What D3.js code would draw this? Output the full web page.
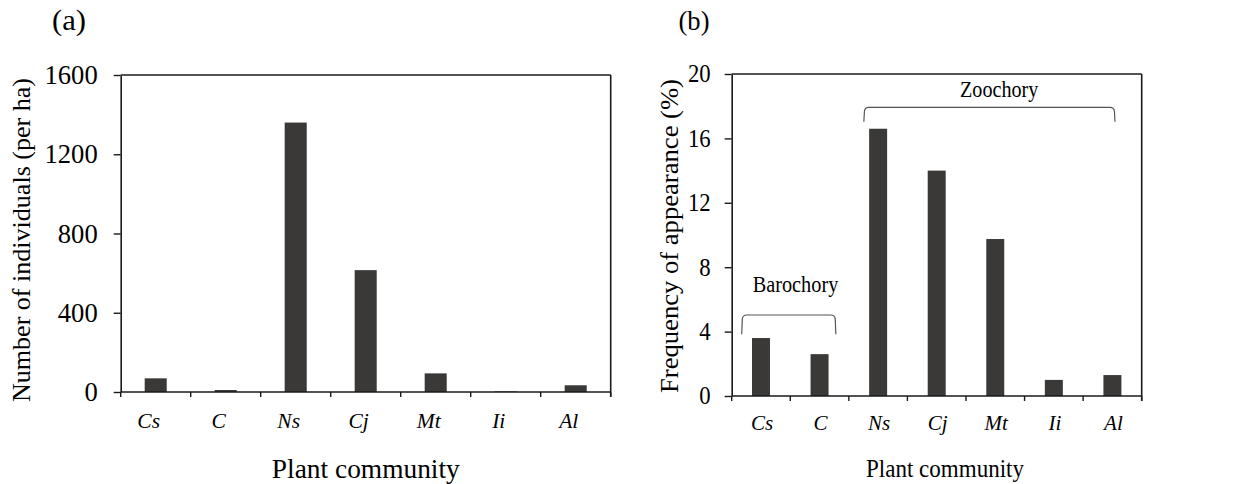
<!DOCTYPE html>
<html>
<head>
<meta charset="utf-8">
<script src="https://cdn.jsdelivr.net/npm/d3@7/dist/d3.min.js"></script>
<style>
  html, body { margin: 0; padding: 0; background: #fff; }
  svg { display: block; }
</style>
</head>
<body>
<svg id="chart" width="1244" height="484"></svg>
<script>
// ---- data ----
const categories = ["Cs", "C", "Ns", "Cj", "Mt", "Ii", "Al"];
const individualsPerHa = [69, 10, 1360, 615, 94, 3, 34];
const frequencyPct = [3.6, 2.6, 16.6, 14.0, 9.75, 1.0, 1.3];
const ticksA = [0, 400, 800, 1200, 1600];
const ticksB = [0, 4, 8, 12, 16, 20];
const groupNames = ["Barochory", "Zoochory"];
const groupFirst = ["Cs", "Ns"];
const groupLast = ["C", "Al"];

const svg = d3.select("#chart");
const barColor = "#3a3937";
const axisColor = "#1a1a1a";
const FONT = '"Liberation Serif", "Times New Roman", Tinos, Times';

function txt(g, x, y, s, opts) {
  const t = g.append("text")
    .style("font-family", FONT)
    .style("font-size", opts.size + "px")
    .style("fill", "#000")
    .attr("text-anchor", opts.anchor || "middle")
    .text(s);
  if (opts.rot) {
    t.attr("x", 0).attr("y", 0).attr("transform", `translate(${x},${y}) rotate(${opts.rot})`);
  } else {
    t.attr("x", x).attr("y", y);
  }
  if (opts.italic) t.style("font-style", "italic");
  if (opts.dy) t.attr("dy", opts.dy);
  if (opts.len) t.attr("textLength", opts.len).attr("lengthAdjust", "spacingAndGlyphs");
  return t;
}

function panel(cfg) {
  const g = svg.append("g");
  const x = d3.scaleBand().domain(categories).range([cfg.left, cfg.right]).padding(0);
  const y = d3.scaleLinear().domain([0, cfg.max]).range([cfg.bottom, cfg.top]);
  const step = x.step();
  const bw = step * cfg.barFrac;

  g.selectAll("rect.bar").data(categories.map((c, i) => ({ c, v: cfg.values[i] })))
    .enter().append("rect")
    .attr("x", d => x(d.c) + step / 2 - bw / 2)
    .attr("width", bw)
    .attr("y", d => y(d.v))
    .attr("height", d => y(0) - y(d.v))
    .attr("fill", barColor);

  g.append("line").attr("x1", cfg.left).attr("x2", cfg.right).attr("y1", cfg.top).attr("y2", cfg.top)
    .attr("stroke", axisColor).attr("stroke-width", 1.6);
  g.append("line").attr("x1", cfg.right).attr("x2", cfg.right).attr("y1", cfg.top).attr("y2", cfg.bottom + 5)
    .attr("stroke", axisColor).attr("stroke-width", 1.6);

  const ya = g.append("g").attr("transform", `translate(${cfg.left},0)`)
    .call(d3.axisLeft(y).tickValues(cfg.ticks).tickSize(7).tickSizeOuter(0).tickFormat(d3.format("d")));
  ya.select(".domain").attr("stroke", axisColor).attr("stroke-width", 1.6);
  ya.selectAll(".tick line").attr("stroke", axisColor).attr("stroke-width", 1.4);
  ya.selectAll(".tick text").remove();
  cfg.ticks.forEach(t => {
    const s = String(t);
    txt(g, cfg.left - cfg.tickLabelGap, y(t), s,
      { size: cfg.tickFont, anchor: "end", dy: "0.34em", len: s.length * cfg.digitW });
  });

  g.append("line").attr("x1", cfg.left).attr("x2", cfg.right).attr("y1", cfg.bottom).attr("y2", cfg.bottom)
    .attr("stroke", axisColor).attr("stroke-width", 1.6);
  const bounds = categories.map(c => x(c)).concat([x(categories[categories.length - 1]) + step]);
  g.selectAll("line.xt").data(bounds).enter().append("line")
    .attr("x1", d => d).attr("x2", d => d)
    .attr("y1", cfg.bottom).attr("y2", cfg.bottom + 5)
    .attr("stroke", axisColor).attr("stroke-width", 1.4);
  categories.forEach(c => {
    txt(g, x(c) + step / 2 + cfg.catShift, cfg.catBaseline, c, { size: cfg.catFont, italic: true });
  });

  txt(g, cfg.xTitleX, cfg.xTitleY, "Plant community", { size: cfg.xTitleFont, len: cfg.xTitleLen });
  txt(g, cfg.yTitleX, cfg.yTitleY, cfg.yTitle, { size: cfg.yTitleFont, rot: -90, len: cfg.yTitleLen });
  txt(g, cfg.panelX, 30, cfg.panelLabel, { size: cfg.panelFont, len: cfg.panelLen });

  return { g, x, y, step };
}

panel({
  values: individualsPerHa, max: 1600, ticks: ticksA,
  left: 120.7, right: 610.7, top: 75, bottom: 392, barFrac: 0.315,
  tickFont: 26.5, tickLabelGap: 23, digitW: 13.3,
  catFont: 21.5, catShift: -7, catBaseline: 428,
  xTitleX: 365.8, xTitleY: 478, xTitleFont: 27, xTitleLen: 188,
  yTitle: "Number of individuals (per ha)", yTitleX: 30, yTitleY: 240, yTitleFont: 26, yTitleLen: 324,
  panelX: 69, panelLabel: "(a)", panelFont: 30, panelLen: 34
});

const pb = panel({
  values: frequencyPct, max: 20, ticks: ticksB,
  left: 731.7, right: 1141.7, top: 74, bottom: 396, barFrac: 0.307,
  tickFont: 24.5, tickLabelGap: 21, digitW: 11.35,
  catFont: 21, catShift: 1, catBaseline: 430,
  xTitleX: 945, xTitleY: 476.5, xTitleFont: 25, xTitleLen: 158,
  yTitle: "Frequency of appearance (%)", yTitleX: 678, yTitleY: 236, yTitleFont: 25, yTitleLen: 314,
  panelX: 694, panelLabel: "(b)", panelFont: 26.5, panelLen: 31
});

const bracketLayout = [
  { l: 10, r: -13, topY: 315, endY: 334.3, labelY: 291.7, labelX: 795.5, labelLen: 85.6 },
  { l: 15, r: -26.7, topY: 107.3, endY: 121.7, labelY: 96.7, labelX: 999.2, labelLen: 78.3 }
];
groupNames.forEach((name, i) => {
  const L = bracketLayout[i];
  const x0 = pb.x(groupFirst[i]) + L.l;
  const x1 = pb.x(groupLast[i]) + pb.step + L.r;
  const r = 4;
  pb.g.append("path")
    .attr("d", `M${x0},${L.endY} L${x0 + 0.6},${L.topY + r} Q${x0 + 1},${L.topY} ${x0 + r + 1},${L.topY} L${x1 - r - 1},${L.topY} Q${x1 - 1},${L.topY} ${x1 - 0.6},${L.topY + r} L${x1},${L.endY}`)
    .attr("fill", "none").attr("stroke", "#555").attr("stroke-width", 1.2);
  txt(pb.g, L.labelX, L.labelY, name, { size: 22.5, len: L.labelLen });
});
</script>
</body>
</html>
